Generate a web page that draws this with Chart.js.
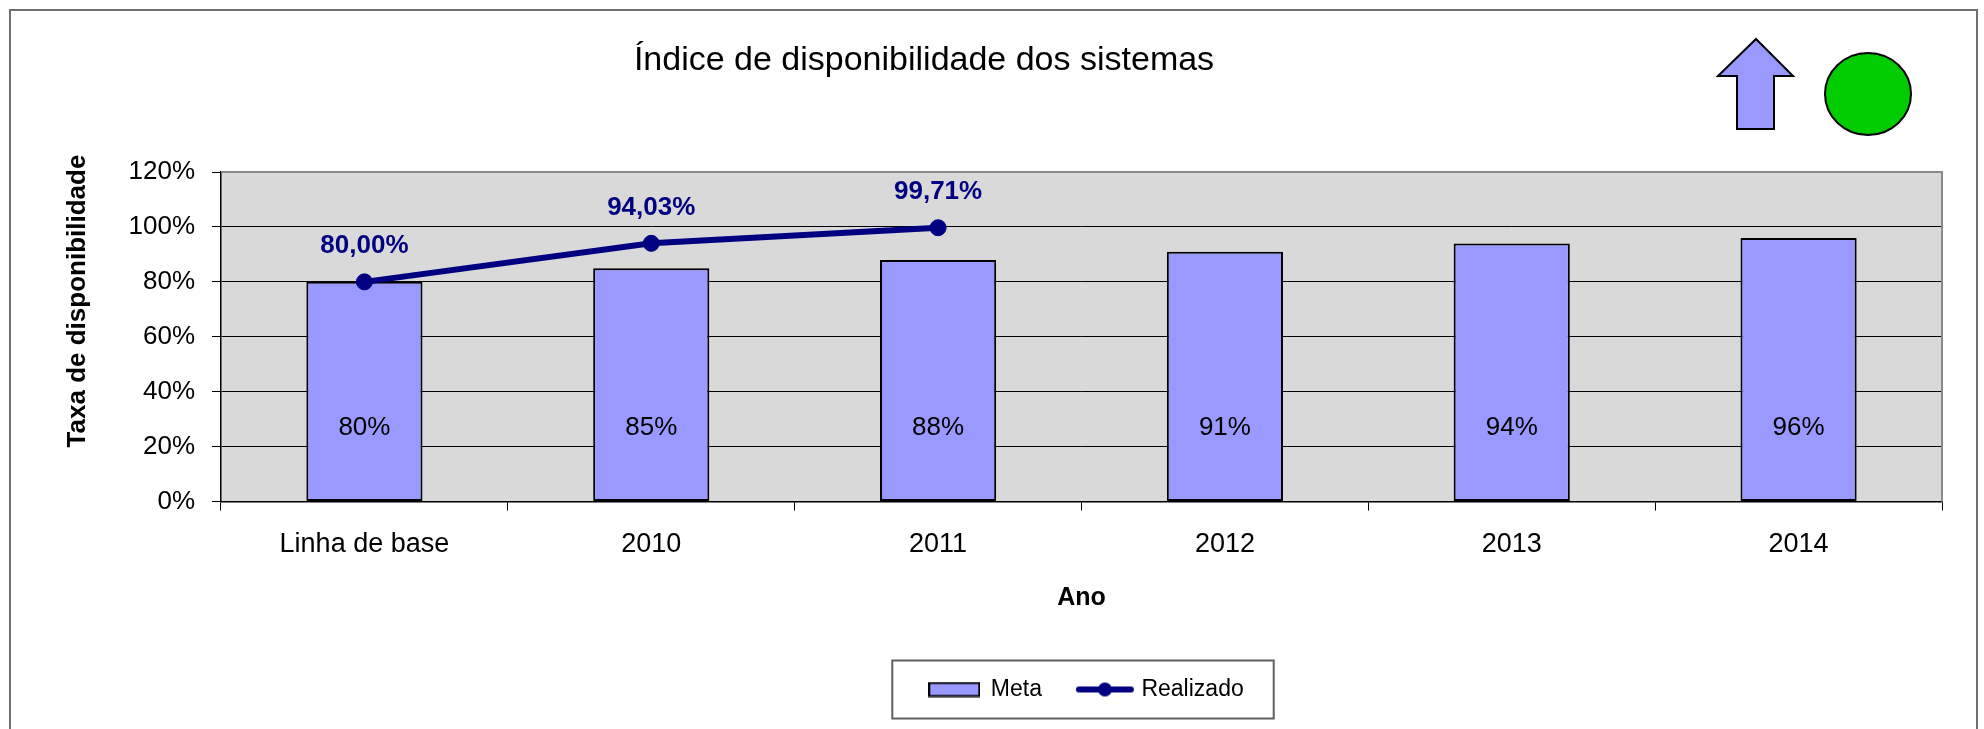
<!DOCTYPE html>
<html><head><meta charset="utf-8">
<script src="https://cdn.jsdelivr.net/npm/chart.js@4.4.1/dist/chart.umd.min.js"></script>
<style>html,body{margin:0;padding:0;background:#fff;}canvas{display:block;}</style>
</head><body>
<canvas id="c" width="1984" height="729"></canvas>
<script>
const categories = ['Linha de base', '2010', '2011', '2012', '2013', '2014'];
const metaValues = [80, 85, 88, 91, 94, 96];
const realizadoValues = [80.00, 94.03, 99.71, null, null, null];
const yTicks = [0, 20, 40, 60, 80, 100, 120];
const seriesNames = ['Meta', 'Realizado'];
const chartTitle = 'Índice de disponibilidade dos sistemas';
const yTitle = 'Taxa de disponibilidade';
const xTitle = 'Ano';

const FONT = "'Liberation Sans', Arial, sans-serif";
const BAR_FILL = '#9999FF';
const NAVY = '#000080';
const BAR_LABEL_AT = 27;

function pct(v) { return v + '%'; }
function pct2(v) { return v.toFixed(2).replace('.', ',') + '%'; }

// legend swatches
const metaSwatch = document.createElement('canvas');
metaSwatch.width = 52; metaSwatch.height = 16;
(function () {
  const c = metaSwatch.getContext('2d');
  c.fillStyle = BAR_FILL; c.fillRect(1, 1.5, 50, 13);
  c.strokeStyle = '#000'; c.lineWidth = 2; c.strokeRect(1, 1.5, 50, 13);
})();
const lineSwatch = document.createElement('canvas');
lineSwatch.width = 60; lineSwatch.height = 18;
(function () {
  const c = lineSwatch.getContext('2d');
  c.strokeStyle = NAVY; c.lineWidth = 6; c.lineCap = 'round';
  c.beginPath(); c.moveTo(4, 9); c.lineTo(56, 9); c.stroke();
  c.fillStyle = NAVY; c.beginPath(); c.arc(30, 9, 7, 0, Math.PI * 2); c.fill();
})();

const decoPlugin = {
  id: 'deco',
  afterLayout(chart) {
    const a = chart.chartArea;
    const lg = chart.legend;
    lg.left = a.left + 5; lg.right = a.right + 5; lg.width = lg.right - lg.left;
    const t = chart.titleBlock;
    t.left = 0; t.right = 1848; t.width = 1848;
  },
  beforeDraw(chart) {
    const { ctx, chartArea: a } = chart;
    ctx.save();
    ctx.fillStyle = '#fff';
    ctx.fillRect(0, 0, chart.width, chart.height);
    ctx.strokeStyle = '#6f6f6f'; ctx.lineWidth = 2;
    ctx.strokeRect(10, 10, 1967, 800);
    ctx.fillStyle = '#D9D9D9';
    ctx.fillRect(a.left, a.top, a.right - a.left, a.bottom - a.top);
    ctx.restore();
  },
  afterDatasetsDraw(chart) {
    const { ctx } = chart;
    const ys = chart.scales.y;
    ctx.save();
    ctx.textAlign = 'center'; ctx.textBaseline = 'middle';
    ctx.fillStyle = '#000';
    ctx.font = '26px ' + FONT;
    chart.getDatasetMeta(0).data.forEach((bar, i) => {
      ctx.fillText(pct(metaValues[i]), bar.x, ys.getPixelForValue(BAR_LABEL_AT));
    });
    ctx.fillStyle = NAVY;
    ctx.font = 'bold 26px ' + FONT;
    chart.getDatasetMeta(1).data.forEach((pt, i) => {
      const v = realizadoValues[i];
      if (v === null || v === undefined) return;
      ctx.fillText(pct2(v), pt.x, pt.y - 36);
    });
    ctx.restore();
  },
  afterDraw(chart) {
    const { ctx, chartArea: a } = chart;
    ctx.save();
    // plot area top/right border
    ctx.strokeStyle = '#8a8a8a'; ctx.lineWidth = 2;
    ctx.beginPath();
    ctx.moveTo(a.left, a.top); ctx.lineTo(a.right, a.top); ctx.lineTo(a.right, a.bottom);
    ctx.stroke();
    // y axis title
    ctx.save();
    ctx.translate(78, 301);
    ctx.rotate(-Math.PI / 2);
    ctx.fillStyle = '#000';
    ctx.font = 'bold 26px ' + FONT;
    ctx.textAlign = 'center'; ctx.textBaseline = 'middle';
    ctx.fillText(yTitle, 0, 0);
    ctx.restore();
    // legend border
    const hb = chart.legend.legendHitBoxes;
    if (hb && hb.length) {
      const cy = hb[0].top + hb[0].height / 2;
      const l = hb[0].left - 37;
      const r = hb[hb.length - 1].left + hb[hb.length - 1].width + 30;
      ctx.strokeStyle = '#606060'; ctx.lineWidth = 2;
      ctx.strokeRect(l, cy - 29, r - l, 58);
    }
    // up arrow
    ctx.beginPath();
    ctx.moveTo(1756, 39); ctx.lineTo(1793, 76); ctx.lineTo(1774, 76); ctx.lineTo(1774, 129);
    ctx.lineTo(1737, 129); ctx.lineTo(1737, 76); ctx.lineTo(1718, 76); ctx.closePath();
    ctx.fillStyle = BAR_FILL; ctx.fill();
    ctx.strokeStyle = '#000'; ctx.lineWidth = 2; ctx.stroke();
    // green status circle
    ctx.beginPath();
    ctx.ellipse(1868, 94, 43, 41, 0, 0, Math.PI * 2);
    ctx.fillStyle = '#00CC00'; ctx.fill();
    ctx.strokeStyle = '#000'; ctx.lineWidth = 2; ctx.stroke();
    ctx.restore();
  }
};

new Chart(document.getElementById('c'), {
  data: {
    labels: categories,
    datasets: [
      {
        type: 'bar', label: seriesNames[0], data: metaValues, order: 2,
        backgroundColor: BAR_FILL, borderColor: '#000', borderWidth: 2, borderSkipped: false,
        barPercentage: 0.405, categoryPercentage: 1.0
      },
      {
        type: 'line', label: seriesNames[1], data: realizadoValues, order: 1,
        borderColor: NAVY, borderWidth: 6, tension: 0, spanGaps: false,
        pointRadius: 8, pointBackgroundColor: NAVY, pointBorderColor: NAVY, pointBorderWidth: 1,
        fill: false
      }
    ]
  },
  options: {
    responsive: false, animation: false, devicePixelRatio: 1,
    layout: { padding: { left: 0, right: 42, top: 0, bottom: 18 } },
    plugins: {
      tooltip: { enabled: false },
      title: {
        display: true, text: chartTitle, color: '#000',
        font: { family: FONT, size: 34, weight: 'normal' },
        padding: { top: 40, bottom: 91.2 }
      },
      legend: {
        position: 'bottom',
        labels: {
          usePointStyle: true, pointStyleWidth: 50, padding: 38, color: '#000',
          font: { family: FONT, size: 23 },
          generateLabels() {
            return [
              { text: seriesNames[0], pointStyle: metaSwatch, fillStyle: BAR_FILL, strokeStyle: '#000', lineWidth: 1, hidden: false, datasetIndex: 0, fontColor: '#000' },
              { text: seriesNames[1], pointStyle: lineSwatch, fillStyle: NAVY, strokeStyle: NAVY, lineWidth: 1, hidden: false, datasetIndex: 1, fontColor: '#000' }
            ];
          }
        }
      }
    },
    scales: {
      x: {
        grid: { display: true, drawOnChartArea: false, offset: true, tickLength: 9, color: '#000', lineWidth: 1 },
        border: { color: '#000', width: 1.5 },
        ticks: { color: '#000', font: { family: FONT, size: 27 }, padding: 18, maxRotation: 0, autoSkip: false },
        title: { display: true, text: xTitle, color: '#000', font: { family: FONT, size: 25, weight: 'bold' }, padding: { top: 4, bottom: 27 } }
      },
      y: {
        min: 0, max: 120,
        afterBuildTicks(s) { s.ticks = yTicks.map(v => ({ value: v })); },
        afterFit(s) { s.width = 221; },
        grid: { color: '#000', lineWidth: 1, tickLength: 9, drawTicks: true },
        border: { color: '#000', width: 1.5 },
        ticks: { color: '#000', font: { family: FONT, size: 26 }, padding: 17, callback: v => pct(v) }
      }
    }
  },
  plugins: [decoPlugin]
});
</script>
</body></html>
